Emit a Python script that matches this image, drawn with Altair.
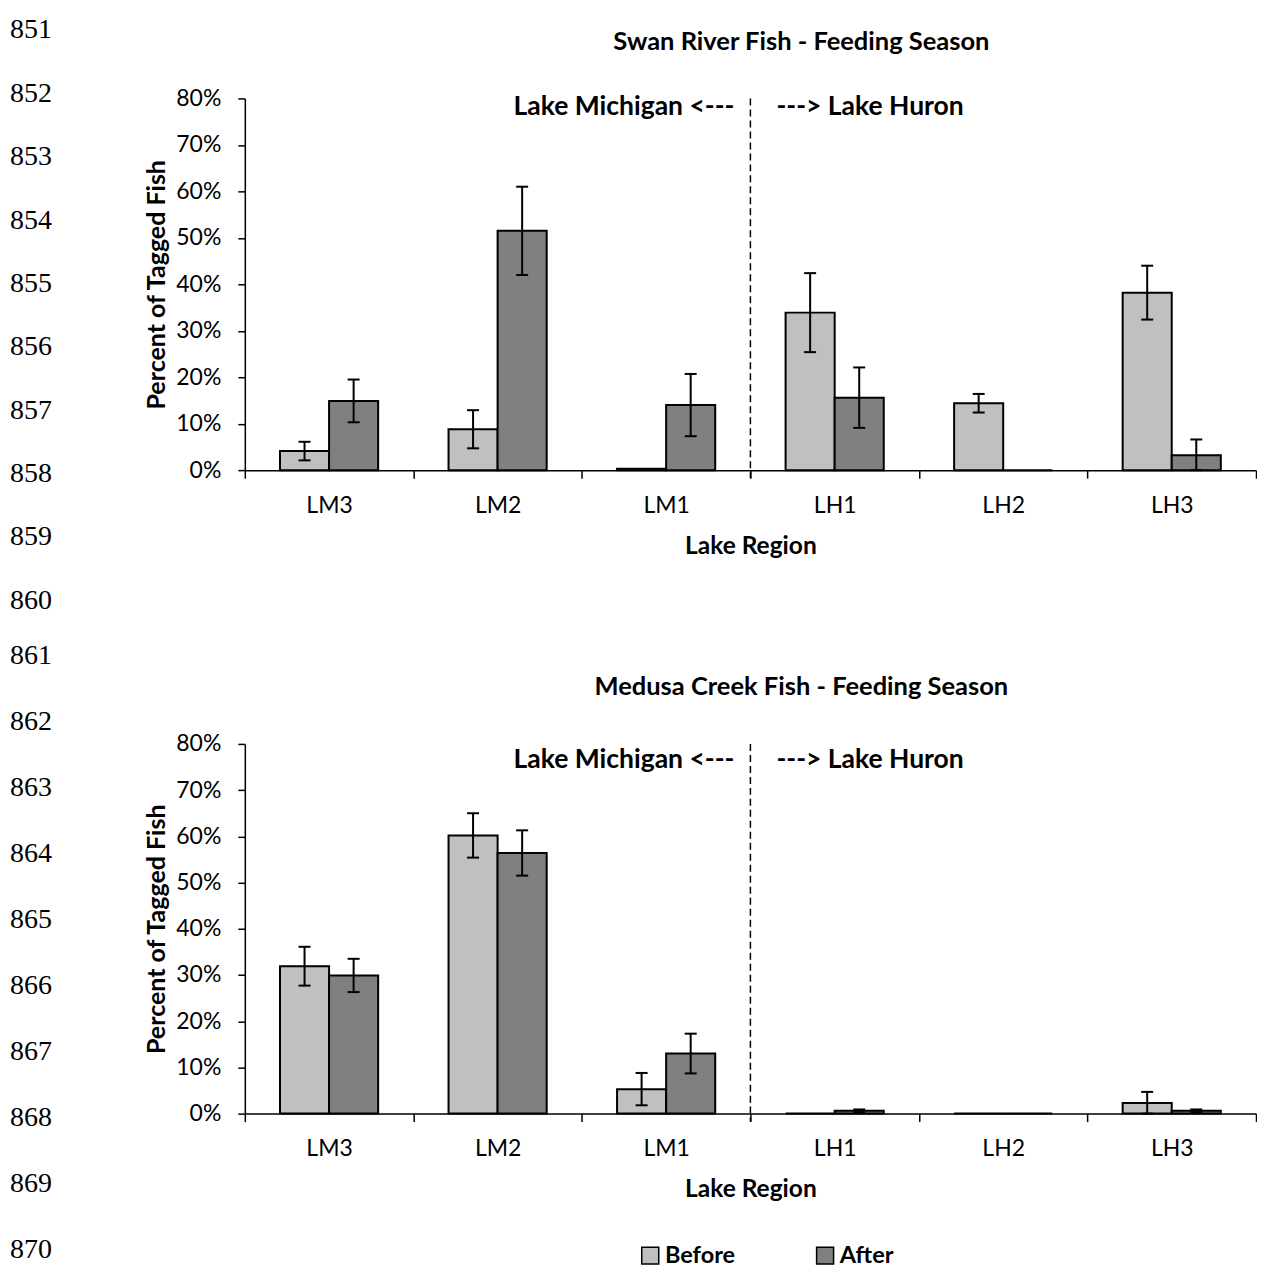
import altair as alt
import pandas as pd

# ---- data (percent) ----
regions = ["LM3", "LM2", "LM1", "LH1", "LH2", "LH3"]
periods = ["Before", "After"]

swan_before = [4.1, 8.8, 0.3, 33.9, 14.4, 38.2]
swan_before_err = [2.0, 4.1, 0.0, 8.5, 2.0, 5.8]
swan_after = [14.9, 51.5, 14.0, 15.6, 0.0, 3.2]
swan_after_err = [4.6, 9.5, 6.7, 6.5, 0.0, 3.4]

medusa_before = [31.9, 60.2, 5.3, 0.0, 0.0, 2.3]
medusa_before_err = [4.2, 4.8, 3.5, 0.0, 0.0, 2.4]
medusa_after = [29.9, 56.4, 13.0, 0.6, 0.0, 0.6]
medusa_after_err = [3.6, 4.9, 4.3, 0.3, 0.0, 0.3]

y_ticks = [0, 0.1, 0.2, 0.3, 0.4, 0.5, 0.6, 0.7, 0.8]
line_numbers_top = list(range(851, 861))
line_numbers_bottom = list(range(861, 871))

FONT = "Lato"
W = 1012


def build_df(before, before_err, after, after_err):
    rows = []
    for i, r in enumerate(regions):
        for p, v, e in (("Before", before[i], before_err[i]),
                        ("After", after[i], after_err[i])):
            rows.append({"region": r, "period": p, "value": v / 100.0,
                         "err": e / 100.0, "lo": max(0.0, v - e) / 100.0,
                         "hi": (v + e) / 100.0})
    return pd.DataFrame(rows)


x_scale = alt.Scale(domain=regions, paddingInner=0, paddingOuter=0)
x_axis = alt.Axis(title="Lake Region", tickBand="extent", labelAngle=0, grid=False,
                  tickSize=8, tickWidth=1.5, tickColor="black", domainColor="black",
                  domainWidth=1.5, labelFont=FONT, labelFontSize=23, labelColor="black",
                  labelPadding=16, titleFont=FONT, titleFontSize=24.5, titleFontWeight="bold",
                  titleColor="black", titlePadding=17)
y_scale = alt.Scale(domain=[0, 0.8], nice=False)
y_axis = alt.Axis(title="Percent of Tagged Fish", format=".0%", values=y_ticks, grid=False,
                  tickSize=7, tickWidth=1.5, tickColor="black", domainColor="black",
                  domainWidth=1.5, labelFont=FONT, labelFontSize=23, labelColor="black",
                  labelPadding=17, titleFont=FONT, titleFontSize=25, titleFontWeight="bold",
                  titleColor="black", titlePadding=6)
fill_scale = alt.Scale(domain=periods, range=["#C0C0C0", "#808080"])
xo_scale = alt.Scale(domain=periods, paddingInner=0, paddingOuter=0.717)


def X(band=None):
    if band is None:
        return alt.X("region:N", scale=x_scale, axis=x_axis)
    return alt.X("region:N", scale=x_scale, axis=x_axis, bandPosition=band)


def Y(field):
    return alt.Y(field, scale=y_scale, axis=y_axis)


def XO():
    return alt.XOffset("period:N", scale=xo_scale)


def panel(df, title, h, ln, ln_domain, ann_y, title_y, legend):
    base = alt.Chart(df)
    bars = base.mark_bar(stroke="black", strokeWidth=2).encode(
        x=X(), xOffset=XO(), y=Y("value:Q"),
        fill=alt.Fill("period:N", scale=fill_scale, legend=legend),
    )
    eb = base.transform_filter("datum.err > 0")
    rules = eb.mark_rule(color="black", strokeWidth=2).encode(
        x=X(), xOffset=XO(), y=Y("lo:Q"), y2="hi:Q")
    cap_lo = eb.mark_tick(color="black", size=12, thickness=2, opacity=1).encode(
        x=X(), xOffset=XO(), y=Y("lo:Q"))
    cap_hi = eb.mark_tick(color="black", size=12, thickness=2, opacity=1).encode(
        x=X(), xOffset=XO(), y=Y("hi:Q"))

    div_df = pd.DataFrame({"region": ["LH1"], "top": [0.8], "bottom": [-0.017]})
    divider = alt.Chart(div_df).mark_rule(color="black", strokeWidth=1.5,
                                          strokeDash=[7, 4]).encode(
        x=X(0), y=Y("top:Q"), y2="bottom:Q")

    ann_l = alt.Chart(pd.DataFrame({"region": ["LM1"], "label": ["Lake Michigan <---"],
                                    "v": [ann_y]})).mark_text(
        align="right", baseline="middle", dx=-16, font=FONT, fontSize=26.5,
        fontWeight="bold", color="black").encode(x=X(1), y=Y("v:Q"), text="label:N")
    ann_r = alt.Chart(pd.DataFrame({"region": ["LH1"], "label": ["---> Lake Huron"],
                                    "v": [ann_y]})).mark_text(
        align="left", baseline="middle", dx=26, font=FONT, fontSize=26.5,
        fontWeight="bold", color="black").encode(x=X(0), y=Y("v:Q"), text="label:N")

    ttl = alt.Chart(pd.DataFrame({"t": [title]})).mark_text(
        align="center", baseline="middle", font=FONT, fontSize=25.5, fontWeight="bold",
        color="black").encode(text="t:N", x=alt.value(557), y=alt.value(title_y))

    inner = alt.layer(bars, rules, cap_lo, cap_hi, divider, ann_l, ann_r, ttl)

    nums = alt.Chart(pd.DataFrame({"n": ln})).mark_text(
        align="left", baseline="middle", font="Liberation Serif", fontSize=28,
        color="black").encode(
        x=alt.value(-235),
        y=alt.Y("n:Q", scale=alt.Scale(domain=ln_domain, reverse=True, nice=False,
                                        zero=False), axis=None),
        text=alt.Text("n:Q", format="d"))

    return alt.layer(inner, nums).resolve_scale(y="independent").properties(
        width=W, height=h)


top = panel(build_df(swan_before, swan_before_err, swan_after, swan_after_err),
            "Swan River Fish - Feeding Season", 372, line_numbers_top,
            [852.072, 857.937], 0.781, -56, None)

legend = alt.Legend(orient="none", legendX=394, legendY=500, direction="horizontal",
                    title=None, symbolType="square", symbolSize=289,
                    symbolStrokeColor="black", symbolStrokeWidth=1.5, symbolOpacity=1,
                    labelFont=FONT, labelFontSize=23.5, labelFontWeight="bold",
                    labelColor="black", columnPadding=78, labelOffset=3)

bottom = panel(build_df(medusa_before, medusa_before_err, medusa_after, medusa_after_err),
               "Medusa Creek Fish - Feeding Season", 370, line_numbers_bottom,
               [862.330, 867.935], 0.765, -57, legend)

chart = alt.vconcat(top, bottom, spacing=27).resolve_scale(fill="independent").properties(
    padding={"left": 2, "top": 8, "right": 0, "bottom": 0},
    background="white",
).configure_view(strokeWidth=0, stroke="transparent")

chart.save("out.html", embed_options={"renderer": "svg", "actions": False})
